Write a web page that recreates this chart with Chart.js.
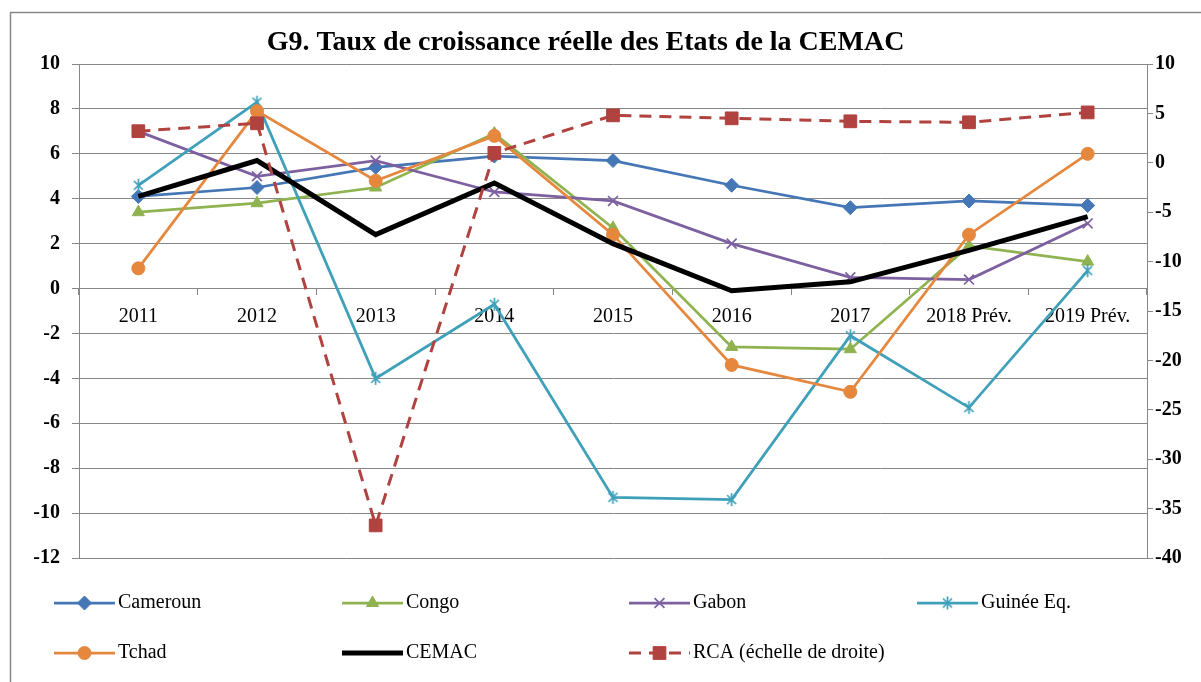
<!DOCTYPE html>
<html>
<head>
<meta charset="utf-8">
<script src="https://cdn.jsdelivr.net/npm/chart.js@4.4.1/dist/chart.umd.min.js"></script>
<style>
  html, body { margin: 0; padding: 0; background: #fff; }
</style>
</head>
<body>
<canvas id="graphique" width="1201" height="682"></canvas>
<script>
'use strict';

const annees = ['2011', '2012', '2013', '2014', '2015', '2016', '2017', '2018 Prév.', '2019 Prév.'];
const cameroun = [4.1, 4.5, 5.4, 5.9, 5.7, 4.6, 3.6, 3.9, 3.7];
const congo = [3.4, 3.8, 4.5, 6.9, 2.7, -2.6, -2.7, 1.9, 1.2];
const gabon = [7.0, 5.0, 5.7, 4.3, 3.9, 2.0, 0.5, 0.4, 2.9];
const guinee = [4.6, 8.3, -4.0, -0.7, -9.3, -9.4, -2.1, -5.3, 0.8];
const tchad = [0.9, 7.9, 4.8, 6.8, 2.4, -3.4, -4.6, 2.4, 6.0];
const cemac = [4.1, 5.7, 2.4, 4.7, 2.0, -0.1, 0.3, 1.7, 3.2];
const rca = [3.2, 4.0, -36.7, 1.0, 4.8, 4.5, 4.2, 4.1, 5.1]; // échelle de droite

const gris = '#878787';
const police = 'Liberation Serif, Times New Roman, serif';

// marqueur "*" façon Excel (croix + trait vertical)
function asterisque(couleur) {
  const c = document.createElement('canvas');
  c.width = 15; c.height = 15;
  const g = c.getContext('2d');
  g.strokeStyle = couleur;
  g.lineWidth = 1.7;
  g.beginPath();
  g.moveTo(7.5, 1); g.lineTo(7.5, 14);
  g.moveTo(3, 3); g.lineTo(12, 12);
  g.moveTo(12, 3); g.lineTo(3, 12);
  g.stroke();
  return c;
}

// cadre + légende dessinés à la main (colonnes fixes comme dans Excel)
const cadre = {
  id: 'cadre',
  afterLayout(chart) {
    // titre centré un peu à gauche, comme dans l'original
    const t = chart.titleBlock;
    if (t) { t.right = t.right - 40; t.width = t.right - t.left; }
  },
  beforeDraw(chart) {
    const ctx = chart.ctx;
    ctx.save();
    ctx.fillStyle = '#fff';
    ctx.fillRect(0, 0, chart.width, chart.height);
    ctx.strokeStyle = gris;
    ctx.lineWidth = 1.5;
    ctx.beginPath();
    ctx.moveTo(10.5, chart.height);
    ctx.lineTo(10.5, 12.5);
    ctx.lineTo(chart.width, 12.5);
    ctx.stroke();
    ctx.restore();
  },
  afterDraw(chart) {
    const ctx = chart.ctx;
    const colonnes = [54, 342, 629, 917];
    const lignes = [603, 653];
    chart.data.datasets.forEach((ds, i) => {
      const x = colonnes[i % 4];
      const y = lignes[Math.floor(i / 4)];
      ctx.save();
      ctx.strokeStyle = ds.borderColor;
      ctx.lineWidth = ds.borderWidth;
      ctx.setLineDash(ds.borderDash || []);
      ctx.beginPath();
      ctx.moveTo(x, y);
      ctx.lineTo(x + 61, y);
      ctx.stroke();
      ctx.setLineDash([]);
      if (ds.pointRadius > 0) {
        ctx.fillStyle = ds.pointBackgroundColor;
        ctx.strokeStyle = ds.pointBorderColor;
        ctx.lineWidth = ds.pointBorderWidth;
        Chart.helpers.drawPoint(ctx, {
          pointStyle: ds.pointStyle,
          radius: ds.pointRadius,
          borderWidth: ds.pointBorderWidth,
          rotation: 0
        }, x + 30.5, y);
      }
      ctx.fillStyle = '#000';
      ctx.font = '20px ' + police;
      ctx.textBaseline = 'middle';
      ctx.textAlign = 'left';
      ctx.fillText(ds.label, x + 64, y);
      ctx.restore();
    });
  }
};

const serie = (label, data, couleur, style, rayon, ordre) => ({
  label: label,
  data: data,
  borderColor: couleur,
  backgroundColor: couleur,
  borderWidth: 2.75,
  pointStyle: style,
  pointRadius: rayon,
  pointHoverRadius: rayon,
  pointBackgroundColor: couleur,
  pointBorderColor: couleur,
  pointBorderWidth: 1,
  tension: 0,
  order: ordre,
  yAxisID: 'y'
});

const jeux = [
  serie('Cameroun', cameroun, '#4576b5', 'rectRot', 7, 6),
  serie('Congo', congo, '#8fb350', 'triangle', 7, 5),
  Object.assign(serie('Gabon', gabon, '#7d60a0', 'crossRot', 7, 4), { pointBorderWidth: 1.7 }),
  serie('Guinée Eq.', guinee, '#3fa0b9', asterisque('#3fa0b9'), 7, 3),
  serie('Tchad', tchad, '#e6873e', 'circle', 6.5, 2),
  Object.assign(serie('CEMAC', cemac, '#000000', 'circle', 0, 1), { borderWidth: 5 }),
  Object.assign(serie('RCA (échelle de droite)', rca, '#b0423f', 'rect', 9, 0), {
    borderDash: [12, 8],
    borderWidth: 3,
    yAxisID: 'y1'
  })
];

new Chart(document.getElementById('graphique'), {
  type: 'line',
  data: { labels: annees, datasets: jeux },
  plugins: [cadre],
  options: {
    responsive: false,
    animation: false,
    events: [],
    layout: { padding: { left: 10, right: 0, top: 12, bottom: 124 } },
    plugins: {
      legend: { display: false },
      tooltip: { enabled: false },
      title: {
        display: true,
        text: 'G9. Taux de croissance réelle des Etats de la CEMAC',
        color: '#000',
        font: { family: police, size: 28, weight: 'bold' },
        padding: { top: 14, bottom: 4.4 }
      }
    },
    scales: {
      x: {
        position: { y: 0 },
        offset: true,
        grid: { offset: true, drawOnChartArea: false, drawTicks: true, tickLength: 6, color: gris },
        border: { display: true, color: gris },
        ticks: { color: '#000', font: { family: police, size: 20 }, padding: 10, maxRotation: 0, autoSkip: false }
      },
      y: {
        position: 'left',
        min: -12,
        max: 10,
        ticks: { stepSize: 2, color: '#000', font: { family: police, size: 20, weight: 'bold' }, padding: 12 },
        grid: { color: gris, tickLength: 7 },
        border: { color: gris },
        afterFit(scale) { scale.width = 69; }
      },
      y1: {
        position: 'right',
        min: -40,
        max: 10,
        ticks: { stepSize: 5, color: '#000', font: { family: police, size: 20, weight: 'bold' }, padding: 2 },
        grid: { drawOnChartArea: false, color: gris, tickLength: 6 },
        border: { color: gris },
        afterFit(scale) { scale.width = 54; }
      }
    }
  }
});
</script>
</body>
</html>
